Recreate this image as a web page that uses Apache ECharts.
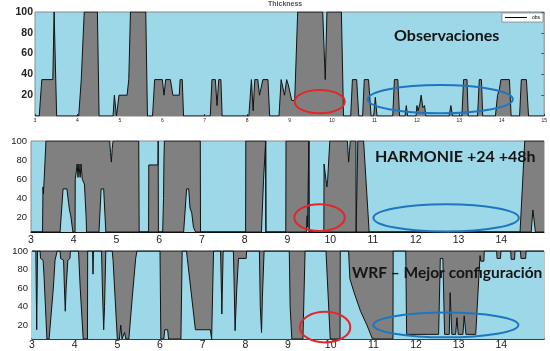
<!DOCTYPE html>
<html>
<head>
<meta charset="utf-8">
<script src="https://cdn.jsdelivr.net/npm/echarts@6/dist/echarts.min.js"></script>
<style>
  html, body { margin: 0; padding: 0; background: #fff; }
  #chart { width: 550px; height: 351px; }
</style>
</head>
<body>
<div id="chart"></div>
<script>
// hours on the x axis, height (m) on the y axis
const yTicks = [20, 40, 60, 80, 100]

// observed fog thickness
const obsThickness = [
  [3.00, 0], [3.10, 0], [3.16, 35], [3.42, 35], [3.45, 100], [3.47, 100], [3.51, 0],
  [4.03, 0], [4.09, 35], [4.16, 100], [4.47, 100], [4.51, 0],
  [4.84, 0], [4.87, 20], [4.92, 0], [4.95, 0], [4.98, 20], [5.17, 20], [5.21, 35], [5.25, 100], [5.61, 100], [5.65, 0],
  [5.77, 0], [5.82, 35], [6.00, 35], [6.04, 20], [6.08, 35], [6.19, 35], [6.25, 20], [6.40, 20], [6.42, 35], [6.47, 35], [6.50, 0],
  [7.13, 0], [7.17, 35], [7.25, 35], [7.29, 10], [7.33, 35], [7.38, 35], [7.41, 0],
  [8.04, 0], [8.10, 35], [8.14, 5], [8.18, 35], [8.25, 35], [8.29, 20], [8.33, 20], [8.37, 35], [8.49, 35], [8.53, 0],
  [8.75, 0], [8.80, 35], [8.84, 35], [8.88, 20], [8.93, 35], [8.97, 30], [9.05, 15], [9.12, 15], [9.19, 100],
  [9.78, 100], [9.84, 35], [9.88, 100], [10.22, 100], [10.27, 0],
  [10.44, 0], [10.48, 35], [10.58, 35], [10.63, 0],
  [10.72, 0], [10.76, 35], [10.86, 35], [10.92, 0],
  [10.98, 0], [11.02, 18], [11.06, 0],
  [11.43, 0], [11.47, 35], [11.55, 35], [11.59, 0],
  [11.72, 0], [11.75, 10], [11.78, 0],
  [11.98, 0], [12.00, 10], [12.03, 5], [12.07, 12], [12.10, 20], [12.14, 8], [12.18, 10], [12.21, 0],
  [12.76, 0], [12.80, 10], [12.84, 0],
  [13.06, 0], [13.10, 35], [13.18, 35], [13.21, 0],
  [13.43, 0], [13.47, 35], [13.52, 35], [13.55, 0],
  [13.85, 0], [13.90, 20], [13.94, 25], [13.98, 35], [14.18, 35], [14.22, 0],
  [14.42, 0], [14.46, 35], [14.58, 35], [14.63, 0], [15.00, 0],
]

// HARMONIE: fog top and fog base
const harmonieTop = [
  [3.00, 5], [3.27, 5], [3.28, 52], [3.29, 45], [3.31, 62], [3.35, 100],
  [4.84, 100], [4.86, 88], [4.88, 78], [4.90, 92], [4.92, 100],
  [5.52, 100], [5.53, 5], [5.75, 5], [5.755, 75], [5.97, 75], [5.975, 100], [5.98, 5],
  [6.08, 5], [6.10, 40], [6.11, 80], [6.12, 100],
  [6.96, 100], [6.965, 5],
  [8.02, 5], [8.025, 100], [8.49, 100], [8.495, 5],
  [8.96, 5], [8.965, 100], [9.50, 100], [9.505, 5],
  [9.85, 5], [9.855, 76], [9.92, 52], [9.94, 60], [9.99, 100],
  [10.40, 100], [10.42, 85], [10.43, 78], [10.45, 90], [10.47, 100],
  [10.60, 100], [10.605, 5], [10.64, 5], [10.645, 100], [10.78, 100], [10.91, 5],
  [14.44, 5], [14.55, 100], [15.00, 100],
]
const harmonieBase = [
  [3.00, 5], [3.68, 5], [3.75, 50], [3.84, 50], [3.88, 35], [3.90, 28], [3.93, 22], [3.98, 5],
  [4.03, 5], [4.035, 60], [4.06, 68], [4.08, 76], [4.10, 62], [4.12, 76], [4.15, 62], [4.17, 76], [4.20, 60], [4.25, 55], [4.29, 20], [4.30, 5],
  [4.59, 5], [4.64, 50], [4.70, 50], [4.75, 5],
  [6.57, 5], [6.64, 50], [6.69, 50], [6.72, 30], [6.76, 25], [6.80, 10], [6.85, 5],
  [8.39, 5], [8.44, 60], [8.49, 100], [8.495, 5],
  [9.44, 5], [9.46, 22], [9.47, 10], [9.50, 100], [9.505, 5],
  [14.70, 5], [14.74, 28], [14.77, 28], [14.80, 5], [15.00, 5],
]

// WRF: fog top and fog base
const wrfTop = [[3.00, 100], [15.00, 100]]
const wrfBase = [
  [3.00, 100], [3.09, 100], [3.11, 15], [3.13, 100],
  [3.19, 100], [3.20, 92], [3.26, 90], [3.28, 75], [3.35, 5], [3.40, 5], [3.50, 60], [3.54, 90], [3.58, 92], [3.59, 100],
  [3.66, 100], [3.67, 92], [3.74, 90], [3.76, 60], [3.78, 35], [3.80, 60], [3.84, 90], [3.89, 92], [3.90, 100],
  [4.09, 100], [4.13, 60], [4.20, 5], [4.30, 5], [4.305, 100],
  [4.42, 100], [4.43, 75], [4.44, 100],
  [4.63, 100], [4.65, 60], [4.68, 15], [4.70, 40], [4.73, 100],
  [4.88, 100], [4.90, 90], [5.00, 5], [5.05, 5], [5.08, 20], [5.11, 5], [5.15, 5], [5.17, 12], [5.20, 5], [5.27, 5], [5.35, 50], [5.43, 92], [5.46, 100],
  [6.00, 100], [6.02, 5], [6.09, 5], [6.11, 15], [6.18, 15], [6.20, 5], [6.49, 5], [6.52, 100],
  [6.62, 100], [6.64, 92], [6.83, 15], [7.18, 15], [7.21, 5], [7.25, 5], [7.255, 100],
  [7.42, 100], [7.45, 32], [7.48, 100],
  [7.72, 100], [7.74, 60], [7.76, 14], [7.80, 60], [7.84, 92], [8.02, 92], [8.03, 100],
  [8.33, 100], [8.35, 40], [8.38, 12], [8.40, 50], [8.44, 100],
  [9.03, 100], [9.05, 40], [9.09, 5], [9.35, 5], [9.40, 100],
  [9.89, 100], [9.99, 5], [10.22, 5], [10.225, 100],
  [10.42, 100], [10.45, 70], [10.55, 55], [10.70, 35], [10.85, 20], [10.98, 5],
  [11.46, 5], [11.465, 100], [11.76, 100], [11.78, 10],
  [12.53, 10], [12.57, 92], [12.63, 92], [12.67, 10],
  [12.78, 10], [12.80, 55], [12.84, 10],
  [12.93, 10], [12.96, 28], [12.99, 10], [13.10, 10], [13.13, 30], [13.17, 10],
  [13.40, 10], [13.50, 95], [13.52, 89], [13.59, 89], [13.60, 100],
  [13.89, 100], [13.90, 92], [13.98, 92], [13.99, 100],
  [14.22, 100], [14.23, 91], [14.31, 91], [14.32, 100],
  [14.45, 100], [14.46, 92], [14.57, 92], [14.58, 100], [15.00, 100],
]

// highlighted periods: [centre hour, centre height, half width (h), half height]
const obsRings = [[9.71, 13.8, 0.59, 11.2], [12.55, 16.2, 1.71, 13.6]]
const harmonieRings = [[9.75, 20.0, 0.59, 13.9], [12.71, 19.7, 1.70, 14.2]]
const wrfRings = [[9.87, 17.8, 0.59, 16.5], [12.70, 20.2, 1.70, 13.4]]
const ringColors = ['#e3262b', '#1f76bf']

const sky = '#9dd8e8'
const fog = '#808080'
const font = 'Liberation Sans'

const chart = echarts.init(document.getElementById('chart'), null, { renderer: 'canvas' })

const grids = [
  { left: 35, right: 5, top: 12, height: 104 },
  { left: 31, right: 6, top: 141, height: 91 },
  { left: 32, right: 6, top: 251, height: 89 },
].map((g) => ({
  ...g,
  show: true,
  backgroundColor: sky,
  borderColor: '#8a8a8a',
  borderWidth: 1,
}))

function xAxis(i) {
  const small = i === 0
  return {
    type: 'value',
    gridIndex: i,
    min: 3,
    max: 15,
    interval: 1,
    axisLine: { show: !small, lineStyle: { color: '#111', width: i === 2 ? 1.6 : 1 } },
    axisTick: { show: small, inside: true, length: 2, lineStyle: { color: '#333' } },
    splitLine: { show: false },
    axisLabel: {
      fontFamily: font,
      fontSize: small ? 5 : 10.5,
      color: '#222',
      margin: small ? 2 : i === 2 ? 1 : 3,
      formatter: (v) => (small || v < 15 ? String(v) : ''),
    },
  }
}

function yAxis(i, right) {
  return {
    type: 'value',
    gridIndex: i,
    position: right ? 'right' : 'left',
    min: i === 0 ? 0 : 5,
    max: 100,
    axisLine: { show: false },
    splitLine: { show: false },
    axisTick: {
      show: right,
      inside: true,
      length: 3,
      customValues: yTicks,
      lineStyle: { color: '#555' },
    },
    axisLabel: {
      show: !right,
      customValues: yTicks,
      fontFamily: font,
      fontSize: i === 0 ? 10.5 : 9.5,
      fontWeight: i === 0 ? 'bold' : 'normal',
      color: '#222',
      margin: i === 0 ? 2 : 4,
    },
  }
}

function band(name, i, data, fill) {
  return {
    name,
    type: 'line',
    xAxisIndex: i,
    yAxisIndex: i,
    data,
    color: '#000',
    showSymbol: false,
    symbol: 'none',
    lineStyle: { color: '#111', width: 1 },
    areaStyle: { color: fill, opacity: 1, origin: 'start' },
    emphasis: { disabled: true },
    z: 2,
  }
}

function rings(name, i, data) {
  return {
    name,
    type: 'custom',
    xAxisIndex: i,
    yAxisIndex: i,
    data,
    encode: { x: 0, y: 1 },
    z: 6,
    silent: true,
    renderItem: (params, api) => {
      const c = api.coord([api.value(0), api.value(1)])
      const s = api.size([api.value(2), api.value(3)])
      return {
        type: 'ellipse',
        shape: { cx: c[0], cy: c[1], rx: s[0], ry: s[1] },
        style: { fill: 'none', stroke: ringColors[params.dataIndex], lineWidth: 2 },
      }
    },
  }
}

const label = (text, left, top, size) => ({
  text,
  left,
  top,
  padding: 0,
  textStyle: { fontFamily: 'Lato', fontWeight: 'bold', fontSize: size, color: '#141414' },
})

chart.setOption({
  animation: false,
  backgroundColor: '#fff',
  title: [
    {
      text: 'Thickness',
      left: 268,
      top: 1,
      padding: 0,
      textStyle: { fontFamily: font, fontWeight: 'bold', fontSize: 7, color: '#555' },
    },
    label('Observaciones', 394, 28, 16),
    label('HARMONIE +24 +48h', 375, 149, 16),
    label('WRF – Mejor configuración', 352, 265, 15.5),
  ],
  legend: {
    data: ['obs'],
    right: 7,
    top: 13,
    icon: 'rect',
    itemWidth: 22,
    itemHeight: 1,
    itemGap: 2,
    padding: [2, 3, 2, 3],
    borderColor: '#666',
    borderWidth: 0.6,
    borderRadius: 0,
    backgroundColor: '#fff',
    selectedMode: false,
    textStyle: { fontFamily: font, fontSize: 5, color: '#000' },
  },
  grid: grids,
  xAxis: [0, 1, 2].map(xAxis),
  yAxis: [0, 1, 2].map((i) => yAxis(i, false)).concat([0, 1, 2].map((i) => yAxis(i, true))),
  series: [
    band('obs', 0, obsThickness, fog),
    band('harmonie top', 1, harmonieTop, fog),
    band('harmonie base', 1, harmonieBase, sky),
    band('wrf top', 2, wrfTop, fog),
    band('wrf base', 2, wrfBase, sky),
    rings('obs rings', 0, obsRings),
    rings('harmonie rings', 1, harmonieRings),
    rings('wrf rings', 2, wrfRings),
  ],
})
</script>
</body>
</html>
